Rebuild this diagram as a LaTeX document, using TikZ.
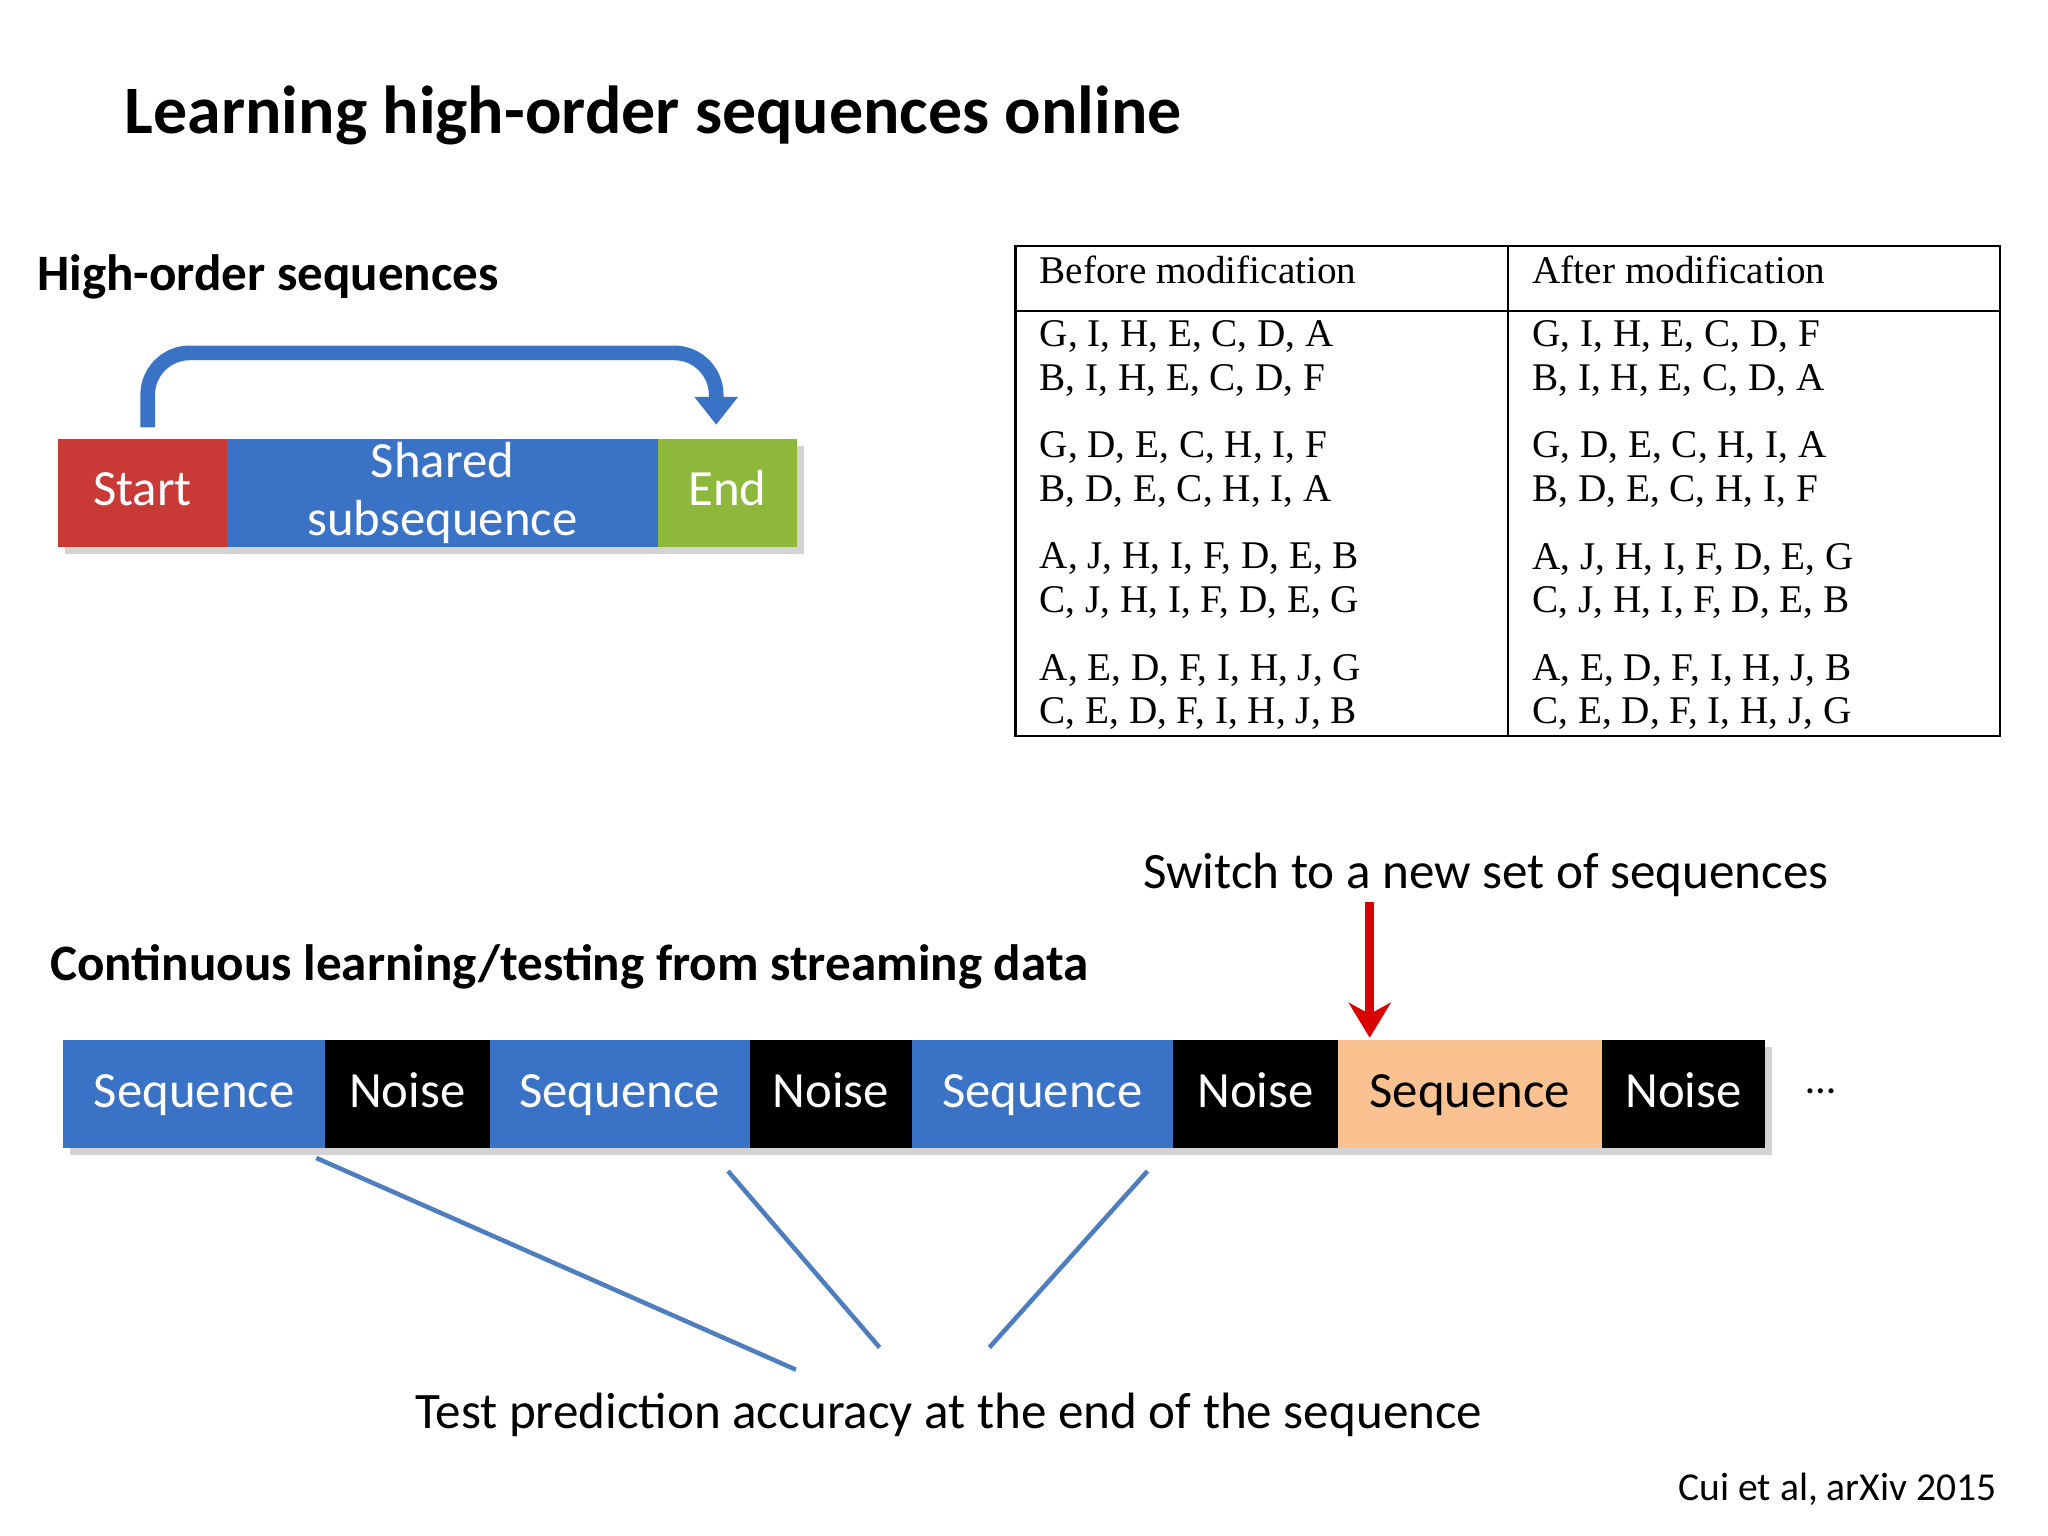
\documentclass[tikz,border=0pt]{standalone}
\usepackage{fontspec}
\setmainfont{Carlito}
\newfontfamily\tms{Liberation Serif}
\usetikzlibrary{arrows.meta,shadows}
\definecolor{bblue}{HTML}{3A73C6}
\definecolor{rred}{HTML}{C93A36}
\definecolor{ggreen}{HTML}{8DB83C}
\definecolor{oorange}{HTML}{FBC291}
\definecolor{lblue}{HTML}{4F7EC0}
\begin{document}
\begin{tikzpicture}[x=0.01313cm,y=-0.01313cm,
  blk/.style={draw=none,minimum height=83*0.01313cm,inner sep=0pt,text=white,font=\fontsize{14.5}{17}\selectfont,anchor=north west,drop shadow={opacity=0.35,shadow xshift=2pt,shadow yshift=-2pt}},
  one/.style={text height=10.5pt,text depth=3pt},
  hd/.style={font=\fontsize{14.6}{17}\selectfont\bfseries,anchor=base west,inner sep=0pt},
  tt/.style={font=\tms\fontsize{11.2}{13.5}\selectfont,anchor=north west,align=left,inner sep=0pt},
  captxt/.style={font=\fontsize{14.6}{17}\selectfont,inner sep=0pt,anchor=base}]
\useasboundingbox (0,0) rectangle (1567,1175);
\node[font=\fontsize{19.4}{22}\selectfont\bfseries,anchor=base west,inner sep=0pt] (title) at (95,102) {Learning high-order sequences online};
\node[hd] (h1) at (28,222) {High-order sequences};
% top bar
\node[blk,one,fill=rred,minimum width=129*0.01313cm] (start) at (44,335) {Start};
\node[blk,fill=bblue,minimum width=330*0.01313cm,align=center,font=\fontsize{14.5}{16.5}\selectfont] (shared) at (173,335) {Shared\\subsequence};
\node[blk,one,fill=ggreen,minimum width=106*0.01313cm] (end) at (503,335) {End};
\coordinate (a0) at (113,327);
\coordinate (a1) at (548,325);
\draw[bblue,line width=4.2pt,rounded corners=12pt,-{Triangle[length=8pt,width=12pt]}] (a0) -- (113,270) -- (548,270) -- (a1);
% table
\draw[line width=0.6pt] (777,188) rectangle (1530,563);
\draw[line width=0.6pt] (1154,188) -- (1154,563);
\draw[line width=0.6pt] (777,238) -- (1530,238);
\node[tt] (th1) at (795,195) {Before modification};
\node[tt] (th2) at (1172,195) {After modification};
\foreach \y/\a/\b/\c/\d in {245/{G, I, H, E, C, D, A}/{B, I, H, E, C, D, F}/{G, I, H, E, C, D, F}/{B, I, H, E, C, D, A},
 330/{G, D, E, C, H, I, F}/{B, D, E, C, H, I, A}/{G, D, E, C, H, I, A}/{B, D, E, C, H, I, F},
 415/{A, J, H, I, F, D, E, B}/{C, J, H, I, F, D, E, G}/{A, J, H, I, F, D, E, G}/{C, J, H, I, F, D, E, B},
 500/{A, E, D, F, I, H, J, G}/{C, E, D, F, I, H, J, B}/{A, E, D, F, I, H, J, B}/{C, E, D, F, I, H, J, G}}{
 \node[tt] at (795,\y) {\a\\[-1pt]\b};
 \node[tt] at (1172,\y) {\c\\[-1pt]\d};
}
% bottom
\node[captxt] (sw) at (1137,680) {Switch to a new set of sequences};
\coordinate (r0) at (1048,690);
\coordinate (r1) at (1048,794);
\draw[red!85!black,line width=2.5pt,-{Stealth[length=10pt,width=12pt]}] (r0) -- (r1);
\node[hd] (h2) at (38,750) {Continuous learning/testing from streaming data};
\node[blk,one,fill=bblue,minimum width=200*0.01313cm] (s1) at (48,795) {Sequence};
\node[blk,one,fill=black,minimum width=126*0.01313cm] (n1) at (248,795) {Noise};
\node[blk,one,fill=bblue,minimum width=199*0.01313cm] (s2) at (374,795) {Sequence};
\node[blk,one,fill=black,minimum width=124*0.01313cm] (n2) at (573,795) {Noise};
\node[blk,one,fill=bblue,minimum width=200*0.01313cm] (s3) at (697,795) {Sequence};
\node[blk,one,fill=black,minimum width=126*0.01313cm] (n3) at (897,795) {Noise};
\node[blk,one,fill=oorange,text=black,minimum width=202*0.01313cm] (s4) at (1023,795) {Sequence};
\node[blk,one,fill=black,minimum width=125*0.01313cm] (n4) at (1225,795) {Noise};
\node[font=\fontsize{12}{14}\selectfont,inner sep=0pt] (dots) at (1393,835) {\dots};
\coordinate (l1a) at (242,886); \coordinate (l1b) at (609,1048);
\coordinate (l2a) at (557,896); \coordinate (l2b) at (673,1031);
\coordinate (l3a) at (878,896); \coordinate (l3b) at (757,1031);
\draw[lblue,line width=1.3pt] (l1a) -- (l1b);
\draw[lblue,line width=1.3pt] (l2a) -- (l2b);
\draw[lblue,line width=1.3pt] (l3a) -- (l3b);
\node[captxt] (test) at (726,1093) {Test prediction accuracy at the end of the sequence};
\node[font=\fontsize{11.3}{13}\selectfont,anchor=base east,inner sep=0pt] (cite) at (1528,1148) {Cui et al, arXiv 2015};
\end{tikzpicture}
\end{document}
